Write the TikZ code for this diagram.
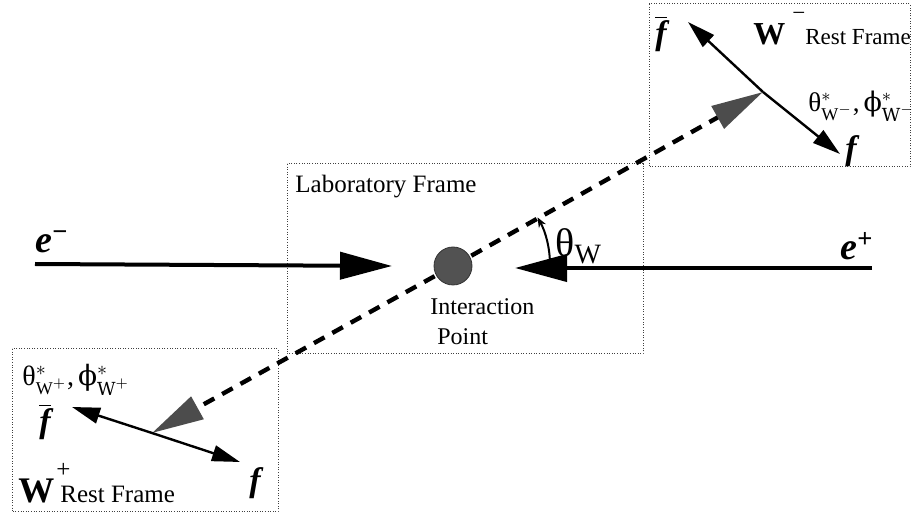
\documentclass[tikz,border=0pt]{standalone}
\usepackage{fontspec}
\setmainfont{Liberation Serif}
\newfontfamily\phifont{DejaVu Serif}
\usetikzlibrary{arrows.meta}

\newcommand{\fbold}{{\fontsize{17}{17}\selectfont\bfseries\itshape f}}
\newcommand{\angw}[2]{#1$^{*}_{\mbox{\fontsize{9}{9}\selectfont W}^{#2}}$}

\begin{document}
\begin{tikzpicture}[x=0.5pt,y=-0.5pt,
    frame/.style={draw=black!75,line width=0.5pt,dash pattern=on 0.5pt off 0.8pt},
    beam/.style={line width=2pt,-{Triangle[length=26pt,width=13.5pt]}},
    wline/.style={line width=2.2pt,dash pattern=on 6pt off 4.5pt,
        -{Triangle[length=26pt,width=12.5pt,color=black!70]}},
    decay/.style={line width=1.2pt,-{Triangle[length=14pt,width=8pt]}},
    txt/.style={font=\fontsize{12.5}{14}\selectfont,inner sep=0pt,anchor=base west},
    big/.style={font=\fontsize{19}{19}\selectfont\bfseries\itshape,inner sep=0pt,anchor=base west}]
    \useasboundingbox (0,0) rectangle (912,518);

    % frames
    \draw[frame] (287,164) rectangle (643,354);
    \draw[frame] (649,4) rectangle (910,167);
    \draw[frame] (12,349) rectangle (278,512);

    \coordinate (ip) at (453,266);
    \coordinate (wm) at (763,92);
    \coordinate (wp) at (152,433);
    \coordinate (ems) at (35,264);
    \coordinate (eme) at (392,266);
    \coordinate (eps) at (872,268);
    \coordinate (epe) at (515,268);
    \coordinate (fbm) at (688,22);
    \coordinate (fm) at (840,154);
    \coordinate (fbp) at (72,407);
    \coordinate (fp) at (240,462);
    \coordinate (a0) at (550,265);

    % beams
    \draw[beam] (ems) -- (eme);
    \draw[beam] (eps) -- (epe);

    % W directions
    \draw[wline] (ip) -- (wm);
    \draw[wline] (ip) -- (wp);
    \node (dot) [circle,fill=black!68,draw=black!80,minimum size=19pt,inner sep=0pt] at (ip) {};

    \draw[line width=1pt,-{Stealth[length=5pt,width=4pt]}] (a0)
        arc[start angle=0,end angle=-29.4,radius=97];

    % decays
    \draw[decay] (wm) -- (fbm);
    \draw[decay] (wm) -- (fm);
    \draw[decay] (wp) -- (fbp);
    \draw[decay] (wp) -- (fp);

    % labels
    \node[txt] (lab) at (295,193) {Laboratory Frame};
    \node[txt,font=\fontsize{12}{14}\selectfont] (ia) at (430,315) {Interaction};
    \node[txt,font=\fontsize{12}{14}\selectfont] (pt) at (437,345) {Point};
    \node[big] (em) at (35,253) {e\textsuperscript{\upshape −}};
    \node[big] (ep) at (840,260) {e\textsuperscript{\upshape +}};
    \node[txt,font=\fontsize{20}{20}\selectfont] (thw) at (555,257) {θ\textsubscript{W}};

    \node[inner sep=0pt] (fbmt) at (661,34) {$\overline{\mbox{\fbold}}$};
    \node[inner sep=0pt] (fmt) at (851,151) {\fbold};
    \node[inner sep=0pt] (fbpt) at (45,422) {$\overline{\mbox{\fbold}}$};
    \node[inner sep=0pt] (fpt) at (255,483) {\fbold};

    \node[txt,font=\fontsize{13.5}{14}\selectfont] (angm) at (808,112)
        {\angw{θ}{-},\hspace{2pt}\angw{\phifont ϕ}{-}};
    \node[txt,font=\fontsize{14}{14}\selectfont] (angp) at (22,386)
        {\angw{θ}{+},\hspace{2pt}\angw{\phifont ϕ}{+}};

    \node[txt,font=\fontsize{11.5}{14}\selectfont] (restm) at (753,45)
        {{\fontsize{16}{16}\selectfont\bfseries W}\hspace{3.5pt}\raisebox{12pt}{−}Rest Frame};
    \node[txt,font=\fontsize{12.5}{14}\selectfont] (restp) at (18,503)
        {{\fontsize{18}{18}\selectfont\bfseries W}\hspace{1pt}\rlap{\raisebox{13pt}{+}}\hspace{2pt}Rest Frame};
\end{tikzpicture}
\end{document}
